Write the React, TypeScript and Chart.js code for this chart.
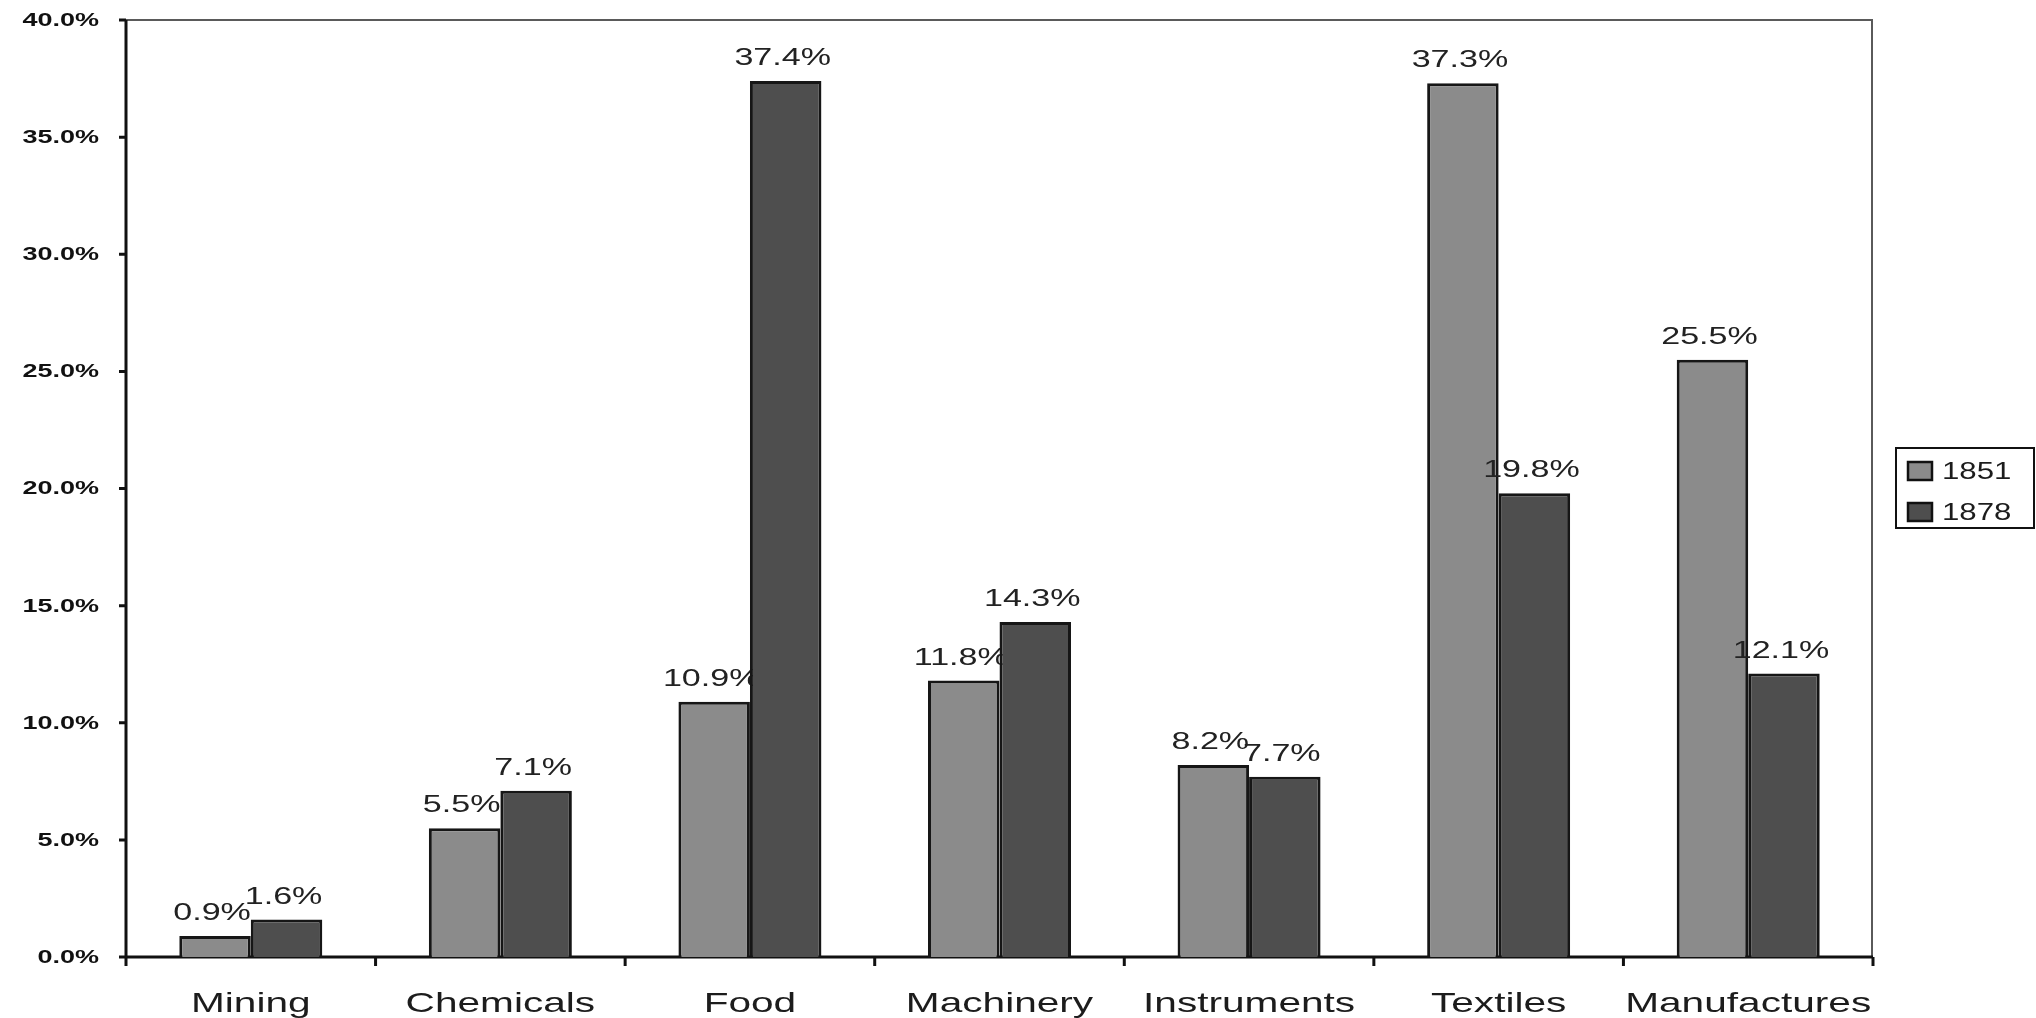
import React, { useEffect, useRef } from "react";
import { Chart, registerables } from "chart.js";

Chart.register(...registerables);

// Share of exports by sector, 1851 vs 1878 (percent)
const categories = ["Mining", "Chemicals", "Food", "Machinery", "Instruments", "Textiles", "Manufactures"];
const seriesNames = ["1851", "1878"];
const values1851 = [0.9, 5.5, 10.9, 11.8, 8.2, 37.3, 25.5];
const values1878 = [1.6, 7.1, 37.4, 14.3, 7.7, 19.8, 12.1];
const yTicks = [0, 5, 10, 15, 20, 25, 30, 35, 40];

const W = 2036;
const H = 1018;
const FONT = '"Liberation Sans", Arial, sans-serif';
const INK = "#1c1c1c";

// Text in this chart is set wide, so draw it with a horizontal stretch.
function wideText(
  ctx: CanvasRenderingContext2D,
  text: string,
  x: number,
  y: number,
  font: string,
  sx: number,
  align: CanvasTextAlign,
  baseline: CanvasTextBaseline,
  color = INK
) {
  ctx.save();
  ctx.translate(x, y);
  ctx.scale(sx, 1);
  ctx.font = font;
  ctx.textAlign = align;
  ctx.textBaseline = baseline;
  ctx.fillStyle = color;
  ctx.fillText(text, 0, 0);
  ctx.restore();
}

const fmt = (v: number) => v.toFixed(1) + "%";

// Value labels above each bar of one dataset
function drawValueLabels(chart: any, index: number) {
  const { ctx } = chart;
  const meta = chart.getDatasetMeta(index);
  const data = chart.data.datasets[index].data as number[];
  meta.data.forEach((bar: any, i: number) => {
    wideText(ctx, fmt(data[i]), bar.x - 3, bar.y - 16, `23px ${FONT}`, 1.48, "center", "alphabetic", "#222");
  });
}

const framePlugin = {
  id: "frame",
  beforeDatasetsDraw(chart: any) {
    const { ctx, chartArea } = chart;
    const { left, right, top, bottom } = chartArea;
    const x = chart.scales.x;
    const y = chart.scales.y;
    ctx.save();
    // top and right frame lines
    ctx.strokeStyle = "#5a5a5a";
    ctx.lineWidth = 2;
    ctx.beginPath();
    ctx.moveTo(left, top);
    ctx.lineTo(right, top);
    ctx.moveTo(right - 1, top);
    ctx.lineTo(right - 1, bottom);
    ctx.stroke();

    // y axis with outward ticks and labels
    ctx.strokeStyle = "#111";
    ctx.lineWidth = 3;
    ctx.beginPath();
    ctx.moveTo(left, top);
    ctx.lineTo(left, bottom + 1);
    for (const t of yTicks) {
      const py = y.getPixelForValue(t);
      ctx.moveTo(left - 7, py);
      ctx.lineTo(left, py);
    }
    ctx.stroke();
    for (const t of yTicks) {
      const py = y.getPixelForValue(t);
      wideText(ctx, fmt(t), left - 27, py + 1, `bold 18px ${FONT}`, 1.5, "right", "middle", "#111");
    }

    // x axis with ticks at category boundaries
    ctx.beginPath();
    ctx.moveTo(left, bottom);
    ctx.lineTo(right, bottom);
    const n = categories.length;
    const step = (right - left) / n;
    for (let i = 0; i <= n; i++) {
      const px = left + i * step;
      ctx.moveTo(px, bottom);
      ctx.lineTo(px, bottom + 9);
    }
    ctx.stroke();
    categories.forEach((c, i) => {
      wideText(ctx, c, x.getPixelForValue(i), bottom + 55, `28px ${FONT}`, 1.45, "center", "alphabetic");
    });
    ctx.restore();

    // 1851 labels sit underneath the neighbouring 1878 bars
    drawValueLabels(chart, 0);
  },
  afterDatasetsDraw(chart: any) {
    drawValueLabels(chart, 1);
  },
  afterDraw(chart: any) {
    const { ctx } = chart;
    ctx.save();
    // legend box
    const bx = 1896, by = 448, bw = 138, bh = 80;
    ctx.fillStyle = "#fff";
    ctx.fillRect(bx, by, bw, bh);
    ctx.strokeStyle = "#111";
    ctx.lineWidth = 2;
    ctx.strokeRect(bx, by, bw, bh);
    chart.data.datasets.forEach((ds: any, i: number) => {
      const cy = 471 + i * 41;
      ctx.fillStyle = ds.backgroundColor;
      ctx.fillRect(1908, cy - 9, 24, 18);
      ctx.strokeStyle = "#111";
      ctx.lineWidth = 2.5;
      ctx.strokeRect(1908, cy - 9, 24, 18);
      wideText(ctx, ds.label, 1942, cy + 1, `24px ${FONT}`, 1.3, "left", "middle");
    });
    ctx.restore();
  },
};

export default function App() {
  const canvasRef = useRef<HTMLCanvasElement | null>(null);

  useEffect(() => {
    document.body.style.margin = "0";
    const canvas = canvasRef.current;
    if (!canvas) return;
    const chart = new Chart(canvas, {
      type: "bar",
      data: {
        labels: categories,
        datasets: [
          {
            label: seriesNames[0],
            data: values1851,
            backgroundColor: "#8b8b8b",
            borderColor: "#161616",
            borderWidth: 3,
          },
          {
            label: seriesNames[1],
            data: values1878,
            backgroundColor: "#4e4e4e",
            borderColor: "#161616",
            borderWidth: 3,
          },
        ],
      },
      options: {
        responsive: false,
        maintainAspectRatio: false,
        devicePixelRatio: 1,
        animation: false,
        layout: { padding: { left: 126, top: 20, right: 163, bottom: 61 } },
        datasets: { bar: { categoryPercentage: 0.573, barPercentage: 1 } },
        plugins: { legend: { display: false }, tooltip: { enabled: false } },
        scales: {
          x: {
            type: "category",
            grid: { display: false, drawTicks: false },
            ticks: { display: false },
            border: { display: false },
          },
          y: {
            min: 0,
            max: 40,
            ticks: { display: false, stepSize: 5 },
            grid: { display: false, drawTicks: false },
            border: { display: false },
          },
        },
      },
      plugins: [framePlugin],
    });
    return () => chart.destroy();
  }, []);

  return (
    <div style={{ position: "fixed", left: 0, top: 0, width: W, height: H, background: "#fff" }}>
      <canvas ref={canvasRef} width={W} height={H} style={{ display: "block" }} />
    </div>
  );
}
